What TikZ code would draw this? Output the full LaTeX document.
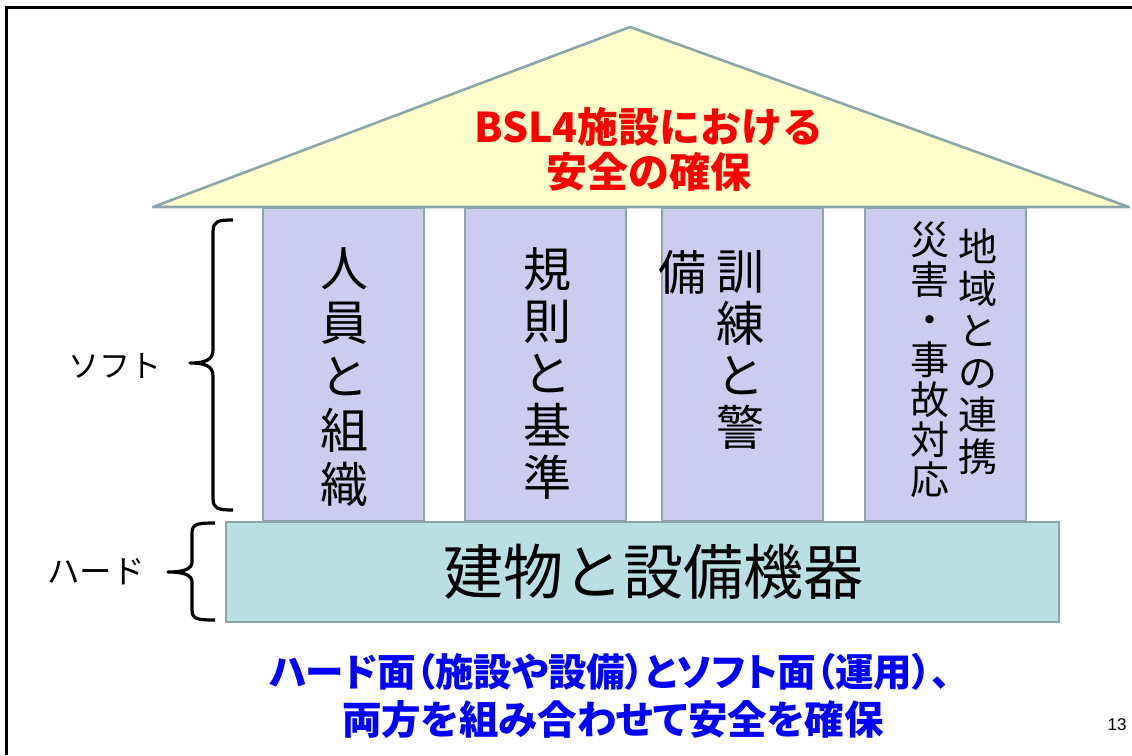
\documentclass[tikz,border=0pt]{standalone}
\usepackage{fontspec}
\newfontfamily\jp{Noto Sans CJK JP}
\newfontfamily\jpp[RawFeature=+palt]{Noto Sans CJK JP}
\newfontfamily\arialf{Liberation Sans}
\definecolor{roofFill}{RGB}{255,255,204}
\definecolor{edgeGray}{RGB}{140,166,172}
\definecolor{pillarFill}{RGB}{204,204,238}
\definecolor{baseFill}{RGB}{185,223,226}
\definecolor{txtRed}{RGB}{255,0,0}
\definecolor{txtBlue}{RGB}{0,0,255}
\tikzset{
  roofshape/.style={draw=edgeGray, fill=roofFill, line width=2.6pt, line join=round},
  pillarbox/.style={draw=edgeGray, fill=pillarFill, line width=2pt, rectangle, inner sep=0pt, minimum width=161pt, minimum height=313pt},
  basebox/.style={draw=edgeGray, fill=baseFill, line width=2.6pt, rectangle, inner sep=0pt, minimum width=833pt, minimum height=100pt},
  vtext/.style={inner sep=0pt, align=center, text=black},
  bracepath/.style={draw=black, line width=3.2pt, line cap=butt, line join=round},
  sidelabel/.style={inner sep=0pt, text=black, font=\jp\fontsize{31}{31}\selectfont},
  msgtext/.style={inner sep=0pt, text=txtBlue},
}
\begin{document}
\begin{tikzpicture}[x=1pt,y=-1pt]
\useasboundingbox (0,0) rectangle (1132,755);
\fill[white] (0,0) rectangle (1132,755);
% frame
\draw[line width=3pt] (6,755) -- (6,7) -- (1132,7);
% roof
\draw[roofshape] (630,27) -- (1129,207) -- (153,207) -- cycle;
\node[inner sep=0pt, align=center, text=txtRed, font=\jp\bfseries\fontsize{41}{45}\selectfont] (rooftext) at (649,149) {BSL4施設における\\安全の確保};
% pillars
\node[pillarbox] (p1) at (343.5,364.5) {};
\node[pillarbox] (p2) at (545,364.5) {};
\node[pillarbox] (p3) at (742,364.5) {};
\node[pillarbox] (p4) at (945,364.5) {};
\node[vtext, font=\jp\fontsize{48}{54}\selectfont] (t1) at (344,377) {人\\員\\と\\組\\織};
\node[vtext, font=\jp\fontsize{48}{52}\selectfont] (t2) at (547,374) {規\\則\\と\\基\\準};
\node[vtext, font=\jp\fontsize{48}{52}\selectfont] (t3a) at (740,350) {訓\\練\\と\\警};
\node[vtext, font=\jp\fontsize{48}{52}\selectfont] (t3b) at (682,272) {備};
\node[vtext, font=\jp\fontsize{39}{42}\selectfont] (t4a) at (978,352) {地\\域\\と\\の\\連\\携};
\node[vtext, font=\jp\fontsize{39}{40}\selectfont] (t4b) at (930,360) {災\\害\\・\\事\\故\\対\\応};
% base
\node[basebox] (base) at (642.5,572) {};
\node[inner sep=0pt, text=black, font=\jp\fontsize{60}{60}\selectfont] (basetext) at (653,572) {建物と設備機器};
% braces
\draw[bracepath] (233,220) .. controls (218,220) and (213,221) .. (213,232) -- (213,350) .. controls (213,360) and (205,363) .. (190,363) .. controls (205,363) and (213,366) .. (213,376) -- (213,498) .. controls (213,509) and (218,510) .. (233,510);
\draw[bracepath] (215,523) .. controls (197,523) and (192,524) .. (192,533) -- (192,562) .. controls (192,569) and (184,572) .. (168,572) .. controls (184,572) and (192,575) .. (192,582) -- (192,610) .. controls (192,619) and (197,620) .. (215,620);
\node[sidelabel] (soft) at (115,366) {ソフト};
\node[sidelabel, font=\jp\fontsize{32.5}{32.5}\selectfont] (hard) at (96,572) {ハード};
% bottom message
\node[msgtext, font=\jpp\bfseries\fontsize{38.5}{38.5}\selectfont] (msg1) at (610,672) {ハード面（施設や設備）とソフト面（運用）、};
\node[msgtext, font=\jpp\bfseries\fontsize{39.5}{39.5}\selectfont] (msg2) at (613,720) {両方を組み合わせて安全を確保};
\node[inner sep=0pt, text=black, font=\arialf\fontsize{17}{17}\selectfont] (pageno) at (1117,725) {13};
\end{tikzpicture}
\end{document}
